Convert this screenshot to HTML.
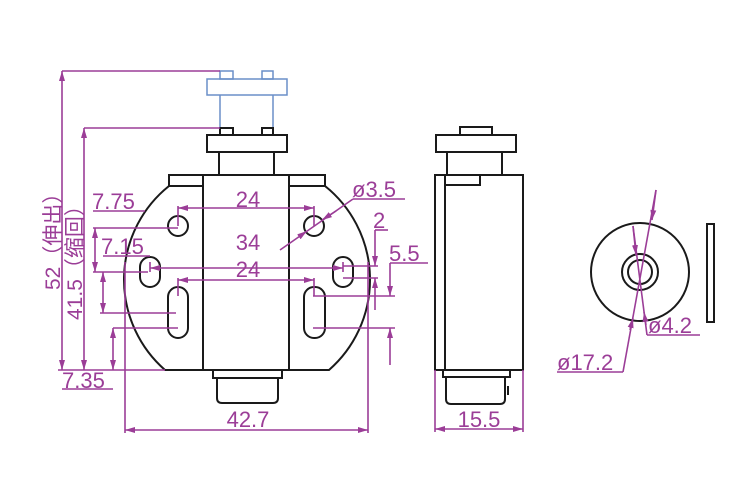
<!DOCTYPE html>
<html><head><meta charset="utf-8"><style>html,body{margin:0;padding:0;background:#fff}svg{display:block}</style></head><body>
<svg width="750" height="500" viewBox="0 0 750 500" xmlns="http://www.w3.org/2000/svg">
<defs>
<marker id="a" viewBox="0 0 10 6" refX="10" refY="3" markerWidth="10" markerHeight="6" orient="auto-start-reverse" markerUnits="userSpaceOnUse"><path d="M0,0L10,3L0,6z" fill="#9b3d97"/></marker>
</defs>
<g fill="none" stroke="#6a8fc8" stroke-width="1.5">
<rect x="207" y="79" width="80" height="16"/>
<rect x="220" y="71" width="13" height="8"/><rect x="262" y="71" width="11" height="8"/>
<line x1="220" y1="95" x2="220" y2="134"/><line x1="273" y1="95" x2="273" y2="134"/>
</g>
<g fill="none" stroke="#1a1a1a" stroke-width="2">
<rect x="220" y="128" width="13" height="7"/><rect x="262" y="128" width="11" height="7"/>
<rect x="207" y="135" width="80" height="17"/>
<rect x="219" y="152" width="55" height="23"/>
<rect x="203" y="175" width="86" height="195"/>
<rect x="169" y="175" width="34" height="11"/><rect x="289" y="175" width="36" height="11"/>
<path d="M169,186 A120,120 0 0 0 165,370 L203,370"/>
<path d="M325,186 A120,120 0 0 1 329,370 L289,370"/>
<rect x="213" y="370" width="69" height="8"/>
<path d="M217,378 V398 Q217,403 222,403 H273 Q278,403 278,398 V378"/>
<circle cx="178" cy="226" r="10"/><circle cx="314" cy="226" r="10"/>
<rect x="140" y="257" width="20" height="30" rx="10"/>
<rect x="333" y="257" width="20" height="30" rx="10"/>
<rect x="168" y="287" width="20" height="51" rx="10"/>
<rect x="304" y="287" width="21" height="51" rx="10"/>
<rect x="435" y="175" width="88" height="195"/>
<line x1="445" y1="175" x2="445" y2="370"/>
<polyline points="445,185 480,185 480,175"/>
<rect x="447" y="152" width="55" height="23"/>
<rect x="436" y="135" width="80" height="17"/>
<rect x="460" y="127" width="32" height="8"/>
<rect x="443" y="370" width="67" height="7"/>
<path d="M446,377 V399 Q446,404 451,404 H500 Q505,404 505,399 V377"/>
<line x1="508" y1="386" x2="508" y2="395"/>
<circle cx="640" cy="272" r="49"/>
<circle cx="640" cy="272" r="18"/><circle cx="640" cy="272" r="12"/>
<rect x="707" y="224" width="7" height="98"/>
</g>
<g fill="none" stroke="#9b3d97" stroke-width="1.6">
<line x1="62" y1="71" x2="220" y2="71"/>
<line x1="62" y1="71" x2="62" y2="370" marker-start="url(#a)" marker-end="url(#a)"/>
<line x1="84" y1="128" x2="220" y2="128"/>
<line x1="84" y1="128" x2="84" y2="370" marker-start="url(#a)" marker-end="url(#a)"/>
<line x1="58" y1="370" x2="165" y2="370"/>
<line x1="93" y1="211" x2="145" y2="211"/>
<line x1="93" y1="228" x2="178" y2="228"/>
<line x1="93" y1="272" x2="148" y2="272"/>
<line x1="95" y1="228" x2="95" y2="272" marker-start="url(#a)" marker-end="url(#a)"/>
<line x1="103" y1="256" x2="150" y2="256"/>
<line x1="100" y1="313" x2="176" y2="313"/>
<line x1="103" y1="272" x2="103" y2="313" marker-start="url(#a)" marker-end="url(#a)"/>
<line x1="113" y1="328" x2="178" y2="328"/>
<line x1="113" y1="328" x2="113" y2="370" marker-start="url(#a)" marker-end="url(#a)"/>
<line x1="62" y1="389" x2="113" y2="389"/>
<line x1="178" y1="208" x2="314" y2="208" marker-start="url(#a)" marker-end="url(#a)"/>
<line x1="178" y1="206" x2="178" y2="226"/><line x1="314" y1="206" x2="314" y2="226"/>
<line x1="150" y1="268" x2="343" y2="268" marker-start="url(#a)" marker-end="url(#a)"/>
<line x1="150" y1="262" x2="150" y2="272"/><line x1="343" y1="262" x2="343" y2="272"/>
<line x1="178" y1="280" x2="314" y2="280" marker-start="url(#a)" marker-end="url(#a)"/>
<line x1="178" y1="278" x2="178" y2="296"/><line x1="314" y1="278" x2="314" y2="296"/>
<line x1="280" y1="250" x2="353" y2="199"/>
<line x1="353" y1="199" x2="405" y2="199"/>
<line x1="300" y1="236" x2="307" y2="231" marker-end="url(#a)"/>
<line x1="336" y1="211" x2="322" y2="220" marker-end="url(#a)"/>
<line x1="343" y1="266" x2="378" y2="266"/><line x1="343" y1="278" x2="378" y2="278"/>
<line x1="375" y1="230" x2="375" y2="266" marker-end="url(#a)"/>
<line x1="375" y1="310" x2="375" y2="278" marker-end="url(#a)"/>
<line x1="375" y1="230" x2="388" y2="230"/>
<line x1="313" y1="296" x2="395" y2="296"/><line x1="313" y1="328" x2="395" y2="328"/>
<line x1="390" y1="263" x2="390" y2="296" marker-end="url(#a)"/>
<line x1="390" y1="365" x2="390" y2="328" marker-end="url(#a)"/>
<line x1="390" y1="263" x2="428" y2="263"/>
<line x1="125" y1="262" x2="125" y2="433"/><line x1="368" y1="262" x2="368" y2="433"/>
<line x1="125" y1="430" x2="368" y2="430" marker-start="url(#a)" marker-end="url(#a)"/>
<line x1="435" y1="370" x2="435" y2="432"/><line x1="523" y1="370" x2="523" y2="432"/>
<line x1="435" y1="429" x2="523" y2="429" marker-start="url(#a)" marker-end="url(#a)"/>
<line x1="656" y1="190" x2="623" y2="372"/>
<line x1="557" y1="372" x2="623" y2="372"/>
<line x1="656" y1="190" x2="652" y2="220" marker-end="url(#a)"/>
<line x1="630" y1="330" x2="633" y2="318" marker-end="url(#a)"/>
<line x1="633" y1="226" x2="647" y2="335"/>
<line x1="647" y1="335" x2="700" y2="335"/>
<line x1="633" y1="226" x2="636" y2="255" marker-end="url(#a)"/>
<line x1="646" y1="325" x2="644" y2="312" marker-end="url(#a)"/>
</g>
<g fill="#9b3d97" font-family="Liberation Sans, 'Noto Sans CJK SC', sans-serif" font-size="22">
<text x="92" y="209">7.75</text>
<text x="101" y="254">7.15</text>
<text x="62" y="388">7.35</text>
<text x="248" y="207" text-anchor="middle">24</text>
<text x="248" y="250" text-anchor="middle">34</text>
<text x="248" y="277" text-anchor="middle">24</text>
<text x="352" y="197">ø3.5</text>
<text x="373" y="228">2</text>
<text x="389" y="261">5.5</text>
<text x="248" y="427" text-anchor="middle">42.7</text>
<text x="479" y="427" text-anchor="middle">15.5</text>
<text x="557" y="370">ø17.2</text>
<text x="648" y="333">ø4.2</text>
<text transform="translate(60,290) rotate(-90)" font-size="21">52（伸出）</text>
<text transform="translate(82,320) rotate(-90)" font-size="21">41.5（缩回）</text>
</g>
</svg>
</body></html>
